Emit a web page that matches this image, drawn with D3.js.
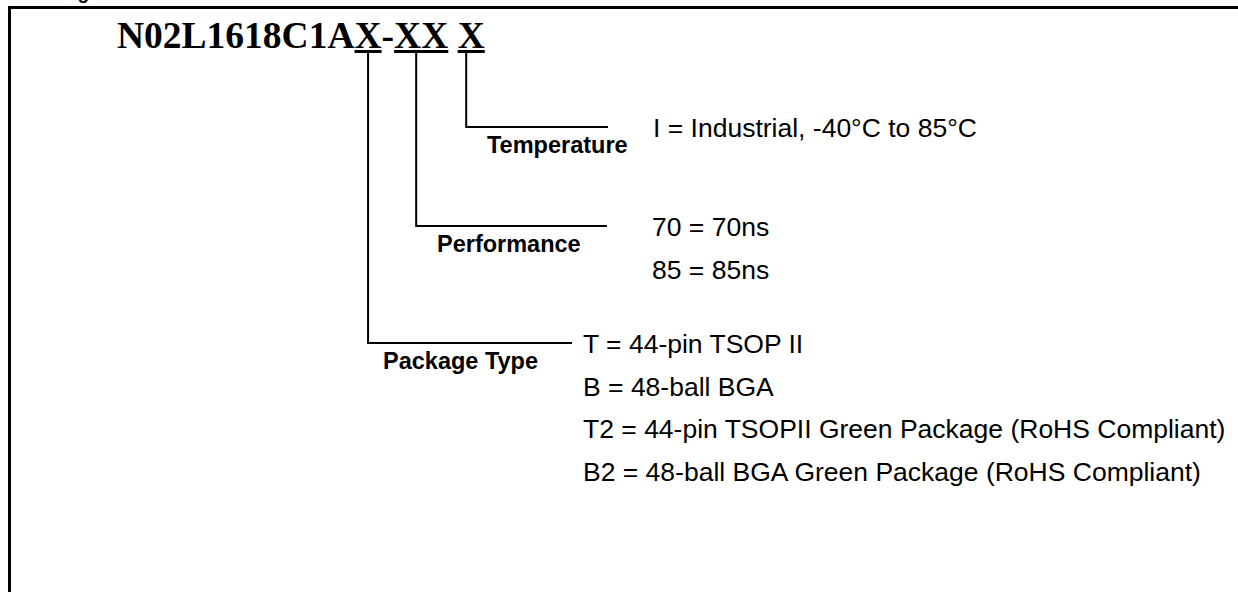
<!DOCTYPE html>
<html>
<head>
<meta charset="utf-8">
<script src="https://cdn.jsdelivr.net/npm/d3@7"></script>
<style>
  html, body { margin: 0; padding: 0; background: #fff; }
  svg { display: block; }
</style>
</head>
<body>
<div id="chart"></div>
<script>
// ---------- data ----------
const heading = "Ordering Information";
const partPrefix = "N02L1618C1A";
const partCodes = ["X", "-", "XX", " ", "X"];          // segments of the part number after prefix
const fields = ["Temperature", "Performance", "Package Type"];
const fieldSegment = [4, 2, 0];                          // which partCodes segment each field points at
const temperatureOptions = ["I = Industrial, -40°C to 85°C"];
const performanceOptions = ["70 = 70ns", "85 = 85ns"];
const packageOptions = [
  "T = 44-pin TSOP II",
  "B = 48-ball BGA",
  "T2 = 44-pin TSOPII Green Package (RoHS Compliant)",
  "B2 = 48-ball BGA Green Package (RoHS Compliant)"
];
const fieldOptions = [temperatureOptions, performanceOptions, packageOptions];

// ---------- layout ----------
const W = 1238, H = 592;
const sans = "'Liberation Sans', Arial, Helvetica, sans-serif";
const serif = "'Liberation Serif', 'Times New Roman', Times, serif";

const svg = d3.select("#chart").append("svg")
  .attr("width", W).attr("height", H)
  .attr("viewBox", [0, 0, W, H]);

// clipped heading above the frame (only descender visible)
svg.append("text")
  .attr("x", 9).attr("y", -1)
  .attr("font-family", sans).attr("font-weight", "bold").attr("font-size", 19)
  .text(heading);

// frame (top + left border)
svg.append("path")
  .attr("d", d3.line()([[9.5, H], [9.5, 7.5], [W, 7.5]]))
  .attr("fill", "none").attr("stroke", "#000").attr("stroke-width", 3);

// title
const title = svg.append("text")
  .attr("x", 117).attr("y", 48)
  .attr("font-family", serif).attr("font-weight", "bold").attr("font-size", 37.5)
  .attr("fill", "#000");
title.append("tspan").text(partPrefix);
const segSpans = partCodes.map(s => title.append("tspan").attr("xml:space", "preserve").text(s));
title.attr("xml:space", "preserve");

// measure segment extents through the DOM
const tnode = title.node();
let idx = partPrefix.length;
const segExt = partCodes.map(s => {
  const a = tnode.getStartPositionOfChar(idx).x;
  const b = tnode.getEndPositionOfChar(idx + s.length - 1).x;
  idx += s.length;
  return [a, b];
});

// underlines for variable segments
const underlineY = 51.5;
[0, 2, 4].forEach(i => {
  svg.append("line")
    .attr("x1", segExt[i][0]).attr("x2", segExt[i][1])
    .attr("y1", underlineY).attr("y2", underlineY)
    .attr("stroke", "#000").attr("stroke-width", 3);
});

// field rows
const rowLineY = [127, 226, 343];       // horizontal leader y
const lineEndX = [608, 607, 572];       // horizontal leader end
const labelX = [487, 437, 383];
const optionX = [653, 652, 583];
const lineStep = 42.5;
const dropOffset = [-5, -5, 0];         // vertical stem offset from segment centre

const y = d3.scaleLinear().domain([0, 1]).range([0, lineStep]);

fields.forEach((f, i) => {
  const seg = segExt[fieldSegment[i]];
  const cx = (seg[0] + seg[1]) / 2 + dropOffset[i];
  svg.append("path")
    .attr("d", d3.line()([[cx, underlineY], [cx, rowLineY[i]], [lineEndX[i], rowLineY[i]]]))
    .attr("fill", "none").attr("stroke", "#000").attr("stroke-width", 2);

  svg.append("text")
    .attr("x", labelX[i]).attr("y", rowLineY[i] + 26)
    .attr("font-family", sans).attr("font-weight", "bold").attr("font-size", 23.5)
    .attr("fill", "#000")
    .text(f);

  svg.selectAll(null).data(fieldOptions[i]).enter().append("text")
    .attr("x", optionX[i])
    .attr("y", (d, j) => rowLineY[i] + 10 + y(j))
    .attr("font-family", sans).attr("font-size", 26.5)
    .attr("fill", "#000")
    .text(d => d);
});
</script>
</body>
</html>
